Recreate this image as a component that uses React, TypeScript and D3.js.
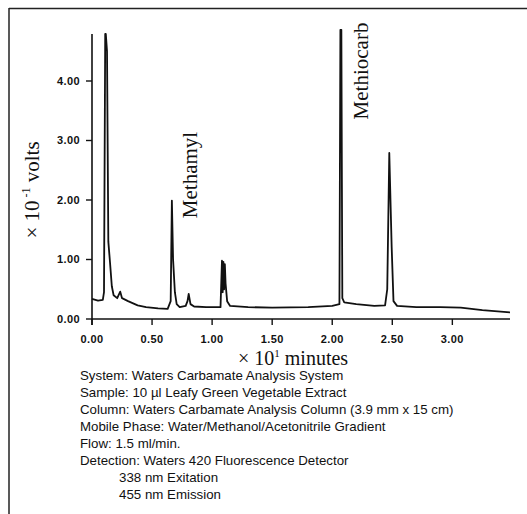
import React from "react";
import * as d3 from "d3";

// detector trace (x10 min, x10^-1 V)
const traceTime = [
  0.0, 0.05, 0.09, 0.1, 0.11, 0.115, 0.125, 0.136, 0.15, 0.165, 0.18, 0.21, 0.235, 0.25, 0.3,
  0.38, 0.45, 0.55, 0.63, 0.655, 0.665, 0.675, 0.69, 0.705, 0.73, 0.78, 0.795, 0.805, 0.82,
  0.85, 0.95, 1.07, 1.082, 1.088, 1.094, 1.1, 1.106, 1.112, 1.125, 1.15, 1.3, 1.5, 1.8, 2.0,
  2.06, 2.068, 2.076, 2.084, 2.1, 2.2, 2.35, 2.44, 2.458, 2.475, 2.495, 2.51, 2.54, 2.7, 2.9,
  3.07, 3.25, 3.48,
];
const traceSignal = [
  0.34, 0.31, 0.32, 0.45, 4.79, 4.79, 4.5, 1.3, 0.95, 0.55, 0.4, 0.35, 0.46, 0.35, 0.3,
  0.23, 0.2, 0.18, 0.17, 0.3, 1.99, 1.0, 0.45, 0.25, 0.2, 0.22, 0.3, 0.42, 0.25,
  0.21, 0.2, 0.2, 0.98, 0.45, 0.96, 0.5, 0.92, 0.6, 0.3, 0.22, 0.2, 0.19, 0.2, 0.22,
  0.25, 4.86, 4.86, 0.35, 0.28, 0.25, 0.22, 0.23, 0.5, 2.79, 1.2, 0.3, 0.22, 0.2, 0.2,
  0.19, 0.15, 0.11,
];

const yTicks = [0, 1, 2, 3, 4];
const xTicks = [0, 0.5, 1, 1.5, 2, 2.5, 3];

const peakNames = ["Methamyl", "Methiocarb"];

const notes = [
  "System: Waters Carbamate Analysis System",
  "Sample: 10 \u00b5l Leafy Green Vegetable Extract",
  "Column: Waters Carbamate Analysis Column (3.9 mm x 15 cm)",
  "Mobile Phase: Water/Methanol/Acetonitrile Gradient",
  "Flow: 1.5 ml/min.",
  "Detection: Waters 420 Fluorescence Detector",
  "338 nm Exitation",
  "455 nm Emission",
];
const noteIndented = [false, false, false, false, false, false, true, true];

const W = 527;
const H = 514;
const serif = "'Liberation Serif', 'Times New Roman', serif";
const sans = "'Liberation Sans', Arial, sans-serif";

export default function App() {
  const x = d3.scaleLinear().domain([0, 3.48]).range([92, 510]);
  const y = d3.scaleLinear().domain([0, 4]).range([319, 81]);
  const yTop = 4.79;

  const pts = traceTime.map((t, i) => [t, traceSignal[i]] as [number, number]);
  const line = d3
    .line<[number, number]>()
    .x((d) => x(d[0]))
    .y((d) => y(d[1]));

  return (
    <svg
      width={W}
      height={H}
      style={{ position: "absolute", left: 0, top: 0, background: "#fff" }}
    >
      {/* page frame */}
      <line x1={9} y1={8.5} x2={W} y2={8.5} stroke="#222" strokeWidth={1.5} />
      <line x1={9} y1={8} x2={9} y2={H} stroke="#222" strokeWidth={1.5} />

      {/* axes */}
      <line x1={x(0)} y1={y(yTop)} x2={x(0)} y2={y(0) + 6} stroke="#111" strokeWidth={1.6} />
      <line x1={x(0)} y1={y(0)} x2={x(3.48)} y2={y(0)} stroke="#111" strokeWidth={1.6} />

      {yTicks.map((v) => (
        <g key={"y" + v}>
          <line x1={x(0) - 6} x2={x(0)} y1={y(v)} y2={y(v)} stroke="#111" strokeWidth={1.4} />
          <text
            x={x(0) - 12}
            y={y(v)}
            dy="0.35em"
            textAnchor="end"
            fontFamily={sans}
            fontWeight="bold"
            fontSize={11}
            letterSpacing={0.4}
            fill="#111"
          >
            {v.toFixed(2)}
          </text>
        </g>
      ))}

      {xTicks.map((t) => (
        <g key={"x" + t}>
          <line x1={x(t)} x2={x(t)} y1={y(0)} y2={y(0) + 6} stroke="#111" strokeWidth={1.4} />
          <text
            x={x(t)}
            y={343}
            textAnchor="middle"
            fontFamily={sans}
            fontWeight="bold"
            fontSize={11}
            letterSpacing={0.4}
            fill="#111"
          >
            {t.toFixed(2)}
          </text>
        </g>
      ))}

      {/* trace */}
      <path d={line(pts) ?? ""} fill="none" stroke="#111" strokeWidth={1.8} strokeLinejoin="round" />

      {/* peak names */}
      <text
        transform={`translate(197,175) rotate(-90)`}
        textAnchor="middle"
        fontFamily={serif}
        fontSize={21}
        fill="#111"
      >
        {peakNames[0]}
      </text>
      <text
        transform={`translate(368,71) rotate(-90)`}
        textAnchor="middle"
        fontFamily={serif}
        fontSize={21}
        fill="#111"
      >
        {peakNames[1]}
      </text>

      {/* axis titles */}
      <text
        transform={`translate(39,190) rotate(-90)`}
        textAnchor="middle"
        fontFamily={serif}
        fontSize={21}
        fill="#111"
      >
        {"\u00d7 10"}
        <tspan fontSize={12} dy={-9}>{" -1"}</tspan>
        <tspan dy={9}>{" volts"}</tspan>
      </text>
      <text x={238} y={365} fontFamily={serif} fontSize={20} fill="#111">
        {"\u00d7 10"}
        <tspan fontSize={11} dy={-8}>{"1"}</tspan>
        <tspan dy={8}>{" minutes"}</tspan>
      </text>

      {/* run conditions */}
      {notes.map((s, i) => (
        <text
          key={i}
          x={noteIndented[i] ? 119 : 80}
          y={380 + i * 17}
          fontFamily={sans}
          fontSize={13.3}
          fill="#111"
        >
          {s}
        </text>
      ))}
    </svg>
  );
}
